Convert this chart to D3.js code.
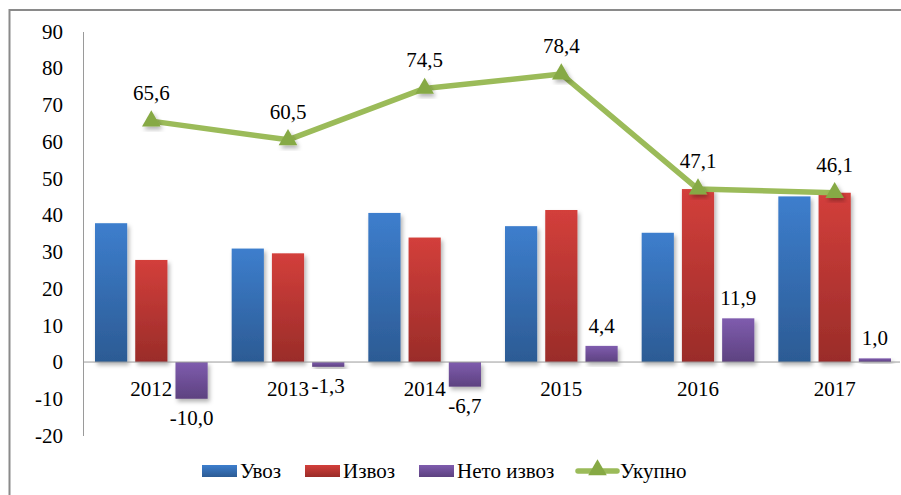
<!DOCTYPE html>
<html>
<head>
<meta charset="utf-8">
<script src="https://cdn.jsdelivr.net/npm/d3@7"></script>
<style>
  body { margin: 0; background: #fff; }
</style>
</head>
<body>
<script>
// data
var years = ["2012", "2013", "2014", "2015", "2016", "2017"];
var uvoz  = [37.8, 30.9, 40.6, 37.0, 35.2, 45.1];
var izvoz = [27.8, 29.6, 33.9, 41.4, 47.1, 46.1];
var neto  = [-10.0, -1.3, -6.7, 4.4, 11.9, 1.0];
var ukupno = [65.6, 60.5, 74.5, 78.4, 47.1, 46.1];
var seriesNames = ["Увоз", "Извоз", "Нето извоз", "Укупно"];
var yTicks = [90, 80, 70, 60, 50, 40, 30, 20, 10, 0, -10, -20];

var width = 901, height = 495;
var FONT = "'Liberation Serif', 'DejaVu Serif', serif";

var svg = d3.select("body").append("svg")
    .attr("width", width)
    .attr("height", height)
    .style("font-family", FONT);

var defs = svg.append("defs");
function grad(id, top, bottom) {
    var g = defs.append("linearGradient").attr("id", id)
        .attr("x1", 0).attr("y1", 0).attr("x2", 0).attr("y2", 1);
    g.append("stop").attr("offset", "0%").attr("stop-color", top);
    g.append("stop").attr("offset", "100%").attr("stop-color", bottom);
}
grad("gBlue", "#3d7ecd", "#2c5b94");
grad("gRed", "#d33f3b", "#9a2c29");
grad("gPurple", "#7f5cae", "#5d4280");
grad("gPurpleN", "#7f5cae", "#5d4280");

var f = defs.append("filter").attr("id", "shadow")
    .attr("x", "-30%").attr("y", "-30%").attr("width", "160%").attr("height", "160%");
f.append("feDropShadow").attr("dx", 2).attr("dy", 3).attr("stdDeviation", 2)
    .attr("flood-color", "#000").attr("flood-opacity", 0.3);

// outer frame (only top and left edges show)
svg.append("rect")
    .attr("x", 9.5).attr("y", 10)
    .attr("width", 1000).attr("height", 1000)
    .attr("fill", "none").attr("stroke", "#8a8a8a").attr("stroke-width", 2);

var y = d3.scaleLinear().domain([-20, 90]).range([435.5, 31.5]);
var x = d3.scaleBand().domain(years).range([83, 903]).paddingInner(0).paddingOuter(0);
var x1 = d3.scaleBand().domain([0, 1, 2]).range([12, x.bandwidth() - 12]).paddingInner(0.2);

function label(sel) {
    sel.style("font-family", FONT).style("font-size", "21px").attr("fill", "#000");
}

// y axis
var yAxis = d3.axisLeft(y).tickValues(yTicks).tickSize(0).tickPadding(20)
    .tickFormat(function(d) { return String(d); });
var gy = svg.append("g").attr("transform", "translate(83,0)").call(yAxis);
gy.attr("font-family", null).attr("font-size", null);
gy.select(".domain").attr("stroke", "#9a9a9a").attr("stroke-width", 1);
gy.selectAll("text").call(label);

// bars
var series = [uvoz, izvoz, neto];
var fills = ["url(#gBlue)", "url(#gRed)", "url(#gPurple)"];
series.forEach(function(vals, si) {
    svg.append("g").selectAll("rect")
        .data(vals)
        .join("rect")
        .attr("x", function(d, i) { return x(years[i]) + x1(si); })
        .attr("width", x1.bandwidth())
        .attr("y", function(d) { return y(Math.max(0, d)); })
        .attr("height", function(d) { return Math.abs(y(d) - y(0)); })
        .attr("fill", fills[si])
        .attr("filter", "url(#shadow)");
});

// x axis line at zero
svg.append("line")
    .attr("x1", 83).attr("x2", 900)
    .attr("y1", y(0)).attr("y2", y(0))
    .attr("stroke", "#9a9a9a");

// category labels
svg.append("g").selectAll("text")
    .data(years)
    .join("text")
    .attr("x", function(d) { return x(d) + x.bandwidth() / 2; })
    .attr("y", y(0) + 34)
    .attr("text-anchor", "middle")
    .call(label)
    .text(function(d) { return d; });

// net labels
var fmt = function(v) { return v.toFixed(1).replace(".", ","); };
svg.append("g").selectAll("text")
    .data(neto)
    .join("text")
    .attr("x", function(d, i) { return x(years[i]) + x1(2) + x1.bandwidth() / 2; })
    .attr("y", function(d) { return d < 0 ? y(d) + 26 : y(d) - 13; })
    .attr("text-anchor", "middle")
    .call(label)
    .text(fmt);

// total line
var cx = function(d, i) { return x(years[i]) + x.bandwidth() / 2; };
var line = d3.line().x(cx).y(function(d) { return y(d); });
svg.append("path")
    .datum(ukupno)
    .attr("d", line)
    .attr("fill", "none")
    .attr("stroke", "#9bbb59")
    .attr("stroke-width", 5.5)
    .attr("stroke-linejoin", "round");

var tri = d3.symbol().type(d3.symbolTriangle).size(150);
svg.append("g").selectAll("path")
    .data(ukupno)
    .join("path")
    .attr("transform", function(d, i) { return "translate(" + cx(d, i) + "," + y(d) + ")"; })
    .attr("d", tri)
    .attr("fill", "#86a944")
    .attr("filter", "url(#shadow)");

svg.append("g").selectAll("text")
    .data(ukupno)
    .join("text")
    .attr("x", cx)
    .attr("y", function(d) { return y(d) - 21; })
    .attr("text-anchor", "middle")
    .call(label)
    .text(fmt);

// legend
var legendX = [202, 305, 419, 578];
var legendFill = ["url(#gBlue)", "url(#gRed)", "url(#gPurple)"];
var lg = svg.append("g");
seriesNames.forEach(function(name, i) {
    if (i < 3) {
        lg.append("rect")
            .attr("x", legendX[i]).attr("y", 465)
            .attr("width", 35).attr("height", 12)
            .attr("fill", legendFill[i]);
    } else {
        lg.append("line")
            .attr("x1", legendX[i]).attr("x2", legendX[i] + 39)
            .attr("y1", 471).attr("y2", 471)
            .attr("stroke", "#9bbb59").attr("stroke-width", 5.5)
            .attr("stroke-linecap", "round");
        lg.append("path")
            .attr("transform", "translate(" + (legendX[i] + 19.5) + ",470)")
            .attr("d", tri)
            .attr("fill", "#86a944");
    }
    lg.append("text")
        .attr("x", legendX[i] + (i < 3 ? 38 : 42))
        .attr("y", 478)
        .call(label)
        .text(name);
});
</script>
</body>
</html>
